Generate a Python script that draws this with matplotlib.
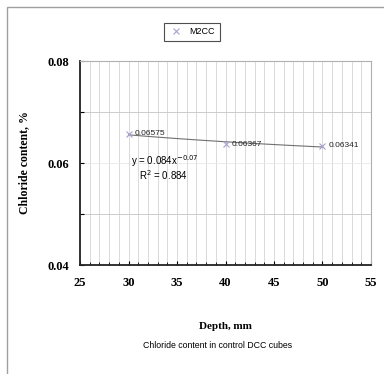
import numpy as np
import matplotlib
matplotlib.use('Agg')
import matplotlib.pyplot as plt
from matplotlib.ticker import MultipleLocator, FixedLocator
from matplotlib.patches import Rectangle

depth = [30, 40, 50]
chloride = [0.06575, 0.06367, 0.06341]
point_labels = ['0.06575', '0.06367', '0.06341']
series_name = 'M2CC'

# power trendline fitted in log space
b_fit, log_a = np.polyfit(np.log(depth), np.log(chloride), 1)
a_fit = np.exp(log_a)

serif = 'Liberation Serif'
sans = 'Liberation Sans'

fig = plt.figure(figsize=(3.84, 3.74), dpi=100)
fig.patches.append(Rectangle((7/384, -0.1), 1.2, 1 - 7/374 + 0.1, transform=fig.transFigure,
                             fill=False, edgecolor='#a0a0a0', linewidth=1.0))
ax = fig.add_axes([80/384, 1 - 265/374, 291/384, 204/374])

xs = np.linspace(depth[0], depth[-1], 50)
ax.plot(xs, a_fit * xs**b_fit, color='#707070', linewidth=0.8, zorder=2)
ax.plot(depth, chloride, linestyle='none', marker='x', markersize=5, mew=0.8,
        color='#a8a0d0', label=series_name, zorder=3)
for x, y, s in zip(depth, chloride, point_labels):
    ax.text(x + 0.6, y, s, fontsize=6, family=sans, va='center', ha='left', color='#222222')

ax.text(33.7, 0.0603, 'y = 0.084x$^{-0.07}$', fontsize=7, family=sans, ha='center', va='center')
ax.text(33.6, 0.0576, 'R$^2$ = 0.884', fontsize=7, family=sans, ha='center', va='center')

ax.set_xlim(25, 55)
ax.set_ylim(0.04, 0.08)
ax.xaxis.set_major_locator(MultipleLocator(5))
ax.xaxis.set_minor_locator(MultipleLocator(1))
ax.yaxis.set_major_locator(FixedLocator([0.04, 0.06, 0.08]))
ax.yaxis.set_minor_locator(MultipleLocator(0.01))
ax.grid(which='both', axis='x', color='#d4d4d4', linewidth=0.6)
ax.grid(which='minor', axis='y', color='#cccccc', linewidth=0.7)
ax.grid(which='major', axis='y', color='#e8e8e8', linewidth=0.6)
ax.set_axisbelow(True)

ax.tick_params(which='major', axis='x', direction='in', length=3, width=0.8, pad=9)
ax.tick_params(which='minor', axis='x', direction='in', length=2, width=0.6)
ax.tick_params(which='major', axis='y', direction='in', length=3, width=0.8, pad=8)
ax.tick_params(which='minor', axis='y', direction='in', length=3, width=0.8)
ax.set_yticklabels(['0.04', '0.06', '0.08'])
for lab in ax.get_xticklabels() + ax.get_yticklabels():
    lab.set_family(serif)
    lab.set_fontweight('bold')
    lab.set_fontsize(9)

for side in ['left', 'bottom']:
    ax.spines[side].set_linewidth(1.3)
    ax.spines[side].set_color('#222222')
for side in ['top', 'right']:
    ax.spines[side].set_linewidth(0.8)
    ax.spines[side].set_color('#b0b0b0')

ax.set_xlabel('Depth, mm', family=serif, fontweight='bold', fontsize=8)
ax.set_ylabel('Chloride content, %', family=serif, fontweight='bold', fontsize=8.5)
ax.xaxis.set_label_coords(0.5, -0.28)
ax.yaxis.set_label_coords(-0.172, 0.5)

leg = fig.legend(loc='center', bbox_to_anchor=(192/384, 1 - 32/374), prop={'family': sans, 'size': 6.5},
                 fancybox=False, edgecolor='#222222', handlelength=1.5, borderpad=0.5)
leg.get_frame().set_linewidth(0.8)

fig.text(218/384, 1 - 345/374, 'Chloride content in control DCC cubes', family=sans, fontsize=6.3,
         ha='center', va='center')

fig.savefig('out.png', dpi=100)
